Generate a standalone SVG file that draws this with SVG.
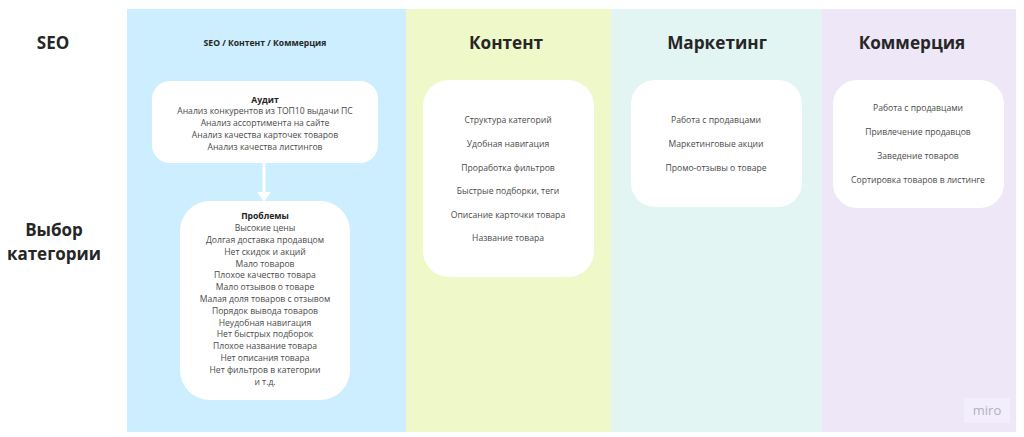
<svg xmlns="http://www.w3.org/2000/svg" width="1024" height="437" viewBox="0 0 1024 437">
<defs>
<style>
.h{font-family:"Open Sans","DejaVu Sans",sans-serif;font-weight:700;fill:#262626;text-anchor:middle}
.t{font-family:"Open Sans","DejaVu Sans",sans-serif;font-size:8.6px;fill:#4a4a4a;text-anchor:middle}
.tb{font-weight:700;fill:#222}
.box{fill:#ffffff}
</style>
</defs>
<rect width="1024" height="437" fill="#ffffff"/>
<g id="columns">
<rect x="127" y="9" width="279" height="423" fill="#cdeefe"/>
<rect x="406" y="9" width="205" height="423" fill="#eff8c9"/>
<rect x="611" y="9" width="211" height="423" fill="#e3f5f2"/>
<rect x="822" y="9" width="194" height="423" fill="#ede7f7"/>
</g>
<g id="row-labels">
<text class="h" x="53" y="49" font-size="17">SEO</text>
<text class="h" x="54" y="236" font-size="17">Выбор</text>
<text class="h" x="54" y="260" font-size="17">категории</text>
</g>
<g id="headers">
<text class="h" x="265" y="46" font-size="8.6">SEO / Контент / Коммерция</text>
<text class="h" x="506" y="49" font-size="17.2">Контент</text>
<text class="h" x="717" y="49" font-size="17.2">Маркетинг</text>
<text class="h" x="912" y="49" font-size="17.2">Коммерция</text>
</g>
<g id="connectors">
<line x1="264" y1="163" x2="264" y2="193" stroke="#ffffff" stroke-width="3"/>
<polygon points="257,192 271,192 264,202" fill="#ffffff"/>
</g>
<g id="audit">
<rect class="box" x="152" y="81" width="226" height="82" rx="18"/>
<text class="t tb" x="265" y="103">Аудит</text>
<text class="t" x="265" y="114">Анализ конкурентов из ТОП10 выдачи ПС</text>
<text class="t" x="265" y="126">Анализ ассортимента на сайте</text>
<text class="t" x="265" y="138">Анализ качества карточек товаров</text>
<text class="t" x="265" y="150">Анализ качества листингов</text>
</g>
<g id="problems">
<rect class="box" x="180" y="201" width="170" height="199" rx="30"/>
<text class="t tb" x="265" y="219">Проблемы</text>
<text class="t" x="265" y="231">Высокие цены</text>
<text class="t" x="265" y="243">Долгая доставка продавцом</text>
<text class="t" x="265" y="255">Нет скидок и акций</text>
<text class="t" x="265" y="267">Мало товаров</text>
<text class="t" x="265" y="278">Плохое качество товара</text>
<text class="t" x="265" y="290">Мало отзывов о товаре</text>
<text class="t" x="265" y="302">Малая доля товаров с отзывом</text>
<text class="t" x="265" y="314">Порядок вывода товаров</text>
<text class="t" x="265" y="326">Неудобная навигация</text>
<text class="t" x="265" y="337">Нет быстрых подборок</text>
<text class="t" x="265" y="349">Плохое название товара</text>
<text class="t" x="265" y="361">Нет описания товара</text>
<text class="t" x="265" y="373">Нет фильтров в категории</text>
<text class="t" x="265" y="385">и т.д.</text>
</g>
<g id="content">
<rect class="box" x="423" y="80" width="171" height="197" rx="26"/>
<text class="t" x="508" y="123">Структура категорий</text>
<text class="t" x="508" y="147">Удобная навигация</text>
<text class="t" x="508" y="171">Проработка фильтров</text>
<text class="t" x="508" y="194">Быстрые подборки, теги</text>
<text class="t" x="508" y="218">Описание карточки товара</text>
<text class="t" x="508" y="241">Название товара</text>
</g>
<g id="marketing">
<rect class="box" x="631" y="80" width="171" height="127" rx="24"/>
<text class="t" x="716" y="123">Работа с продавцами</text>
<text class="t" x="716" y="147">Маркетинговые акции</text>
<text class="t" x="716" y="171">Промо-отзывы о товаре</text>
</g>
<g id="commerce">
<rect class="box" x="833" y="80" width="171" height="128" rx="24"/>
<text class="t" x="918" y="111">Работа с продавцами</text>
<text class="t" x="918" y="135">Привлечение продавцов</text>
<text class="t" x="918" y="159">Заведение товаров</text>
<text class="t" x="918" y="183">Сортировка товаров в листинге</text>
</g>
<g id="logo">
<rect x="964" y="398" width="46" height="25" fill="#f3eefb"/>
<text x="987" y="415" font-family="'Open Sans','DejaVu Sans',sans-serif" font-size="13" fill="#b5b0bd" text-anchor="middle">miro</text>
</g>
</svg>
